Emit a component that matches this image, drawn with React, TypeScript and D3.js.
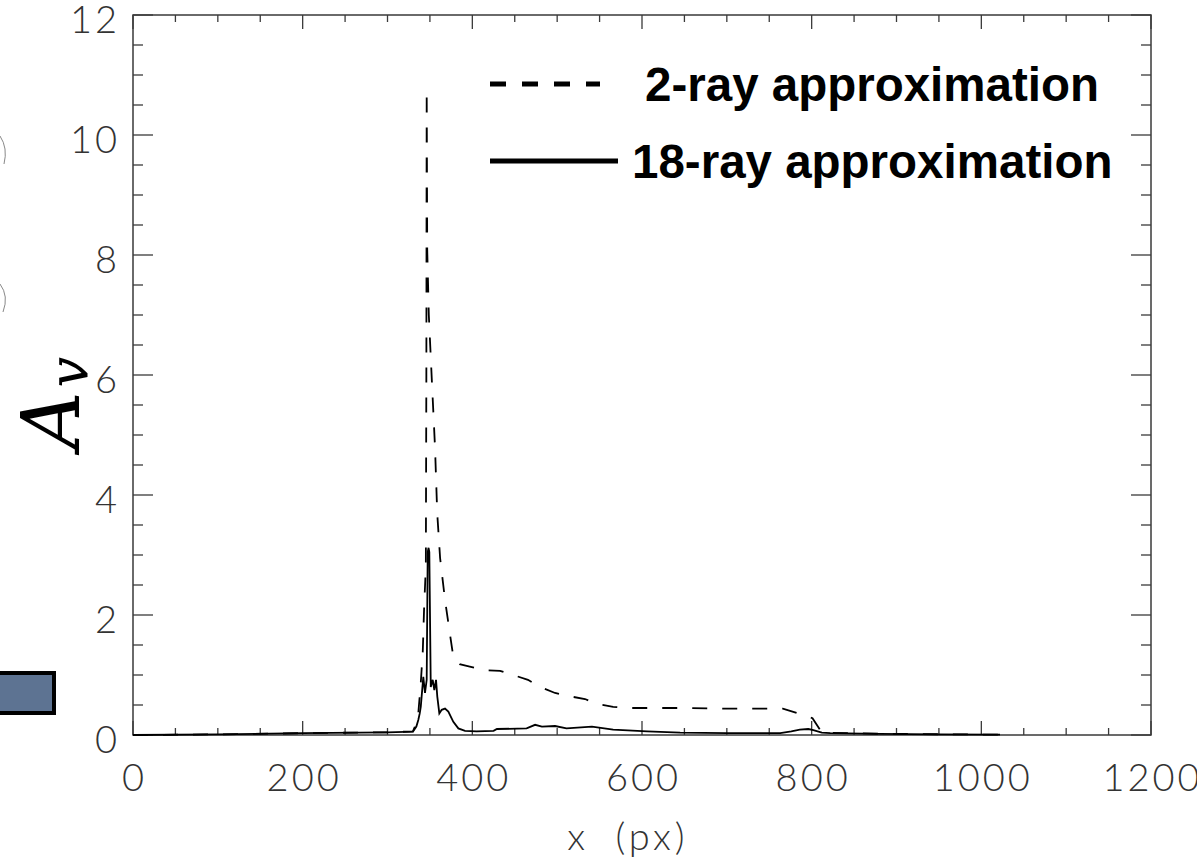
import React from "react";
import * as d3 from "d3";

// ---- data ----
const xTicks = [0, 200, 400, 600, 800, 1000, 1200];
const yTicks = [0, 2, 4, 6, 8, 10, 12];

const ray18X = [0, 100, 200, 300, 330, 334, 336.3, 338, 339.2, 342.2, 344.2, 346.2, 347.4, 348.4, 349.3, 351, 353.3, 355.2, 357.2, 358.7, 361.1, 363.9, 367.8, 371.7, 377.6, 383.5, 391.4, 405, 425, 429, 464, 474, 482, 497.5, 511, 541, 566, 606, 645, 700, 763, 776, 786, 796, 802, 812, 822, 880, 950, 1022];
const ray18Y = [0.0, 0.01, 0.03, 0.045, 0.055, 0.14, 0.25, 0.36, 0.47, 0.97, 0.7, 0.92, 3.05, 3.12, 3.05, 0.8, 0.92, 0.75, 0.92, 0.64, 0.36, 0.42, 0.44, 0.39, 0.22, 0.11, 0.07, 0.06, 0.07, 0.1, 0.11, 0.17, 0.14, 0.15, 0.11, 0.14, 0.09, 0.06, 0.04, 0.03, 0.03, 0.06, 0.09, 0.1, 0.08, 0.04, 0.03, 0.02, 0.01, 0.005];

const ray2X = [0, 100, 200, 300, 330, 334, 336.3, 339.2, 341.6, 343.2, 345.2, 345.8, 346.2, 346.8, 348.7, 352.3, 356, 358.6, 362, 367.8, 372.9, 377.6, 385, 397, 412.6, 432.6, 448, 465.6, 479.8, 497.5, 512.8, 532.8, 547, 566, 582, 654, 700, 766, 784, 801, 812, 880, 1022];
const ray2Y = [0.0, 0.01, 0.03, 0.045, 0.06, 0.2, 0.36, 0.86, 1.4, 2.14, 2.8, 6.0, 10.75, 8.1, 7.0, 5.9, 4.8, 3.7, 2.95, 2.25, 1.75, 1.3, 1.18, 1.14, 1.08, 1.07, 1.0, 0.92, 0.8, 0.7, 0.65, 0.6, 0.52, 0.47, 0.45, 0.45, 0.44, 0.44, 0.36, 0.28, 0.04, 0.02, 0.005];

const legendLabels = ["2-ray approximation", "18-ray approximation"];
const xTitle = "x (px)";

export default function App() {
  const W = 1197, H = 859;
  const L = 133, R = 1151, T = 15, B = 735;
  const x = d3.scaleLinear().domain([0, 1200]).range([L, R]);
  const y = d3.scaleLinear().domain([0, 12]).range([B, T]);

  const line = d3.line<[number, number]>().x(d => x(d[0])).y(d => y(d[1]));
  const d18 = line(ray18X.map((v, i) => [v, ray18Y[i]] as [number, number])) || "";
  const d2 = line(ray2X.map((v, i) => [v, ray2Y[i]] as [number, number])) || "";

  const xMinor = d3.range(0, 1201, 50);
  const yMinor = d3.range(0, 12.01, 0.5);
  const axisCol = "#3a3a3a";
  const labelFont = "Lato, 'DejaVu Sans', sans-serif";

  return (
    <svg width={W} height={H} style={{ position: "absolute", left: 0, top: 0, background: "#fff" }}>
      {/* left-edge remnants of neighbouring figure */}
      <rect x={-6} y={673} width={60} height={40} fill="#5d7392" stroke="#000" strokeWidth={4} />
      <path d="M0,136 Q8,148 4,164" fill="none" stroke="#888" strokeWidth={1} />
      <path d="M0,284 Q9,296 3,312" fill="none" stroke="#888" strokeWidth={1} />

      {/* frame */}
      <rect x={L} y={T} width={R - L} height={B - T} fill="none" stroke={axisCol} strokeWidth={1.5} />

      {/* x ticks bottom & top */}
      {xMinor.map(v => {
        const major = v % 200 === 0;
        const len = major ? 14 : 7;
        return (
          <g key={"xt" + v}>
            <line x1={x(v)} x2={x(v)} y1={B} y2={B - len} stroke={axisCol} strokeWidth={1.3} />
            <line x1={x(v)} x2={x(v)} y1={T} y2={T + len} stroke={axisCol} strokeWidth={1.3} />
          </g>
        );
      })}
      {/* y ticks left & right */}
      {yMinor.map(v => {
        const major = Math.abs(v % 2) < 1e-6;
        const len = major ? 20 : 10;
        return (
          <g key={"yt" + v}>
            <line x1={L} x2={L + len} y1={y(v)} y2={y(v)} stroke={axisCol} strokeWidth={1.3} />
            <line x1={R} x2={R - len} y1={y(v)} y2={y(v)} stroke={axisCol} strokeWidth={1.3} />
          </g>
        );
      })}

      {/* tick labels */}
      {xTicks.map(v => (
        <text key={"xl" + v} x={x(v) + 1.5} y={776} textAnchor="middle" dominantBaseline="central"
          fontFamily={labelFont} fontWeight={300} fontSize={38} letterSpacing={3} fill="#333">{v}</text>
      ))}
      {yTicks.map(v => (
        <text key={"yl" + v} x={120} y={y(v) + 3} textAnchor="end" dominantBaseline="central"
          fontFamily={labelFont} fontWeight={300} fontSize={38} letterSpacing={3} fill="#333">{v}</text>
      ))}

      {/* axis titles */}
      <text x={628} y={835} textAnchor="middle" dominantBaseline="central"
        fontFamily={labelFont} fontWeight={300} fontSize={38} letterSpacing={4} wordSpacing={12} fill="#333">{xTitle}</text>
      <text transform="translate(79,403) rotate(-90)" textAnchor="middle"
        fontFamily="'DejaVu Serif', 'Liberation Serif', serif" fontStyle="italic" fill="#000">
        <tspan fontSize={80}>A</tspan>
        <tspan fontSize={54} dx={4} dy={8}>v</tspan>
      </text>

      {/* curves */}
      <path d={d2} fill="none" stroke="#000" strokeWidth={1.8} strokeDasharray="15,15" />
      <path d={d18} fill="none" stroke="#000" strokeWidth={1.8} />

      {/* legend */}
      <line x1={490} x2={600} y1={84} y2={84} stroke="#000" strokeWidth={5} strokeDasharray="16,16" />
      <text x={645} y={101} fontFamily="'Liberation Sans', Arial, sans-serif" fontWeight="bold" fontSize={47.5} fill="#000">{legendLabels[0]}</text>
      <line x1={490} x2={618} y1={161} y2={161} stroke="#000" strokeWidth={5} />
      <text x={632} y={178} fontFamily="'Liberation Sans', Arial, sans-serif" fontWeight="bold" fontSize={47.5} fill="#000">{legendLabels[1]}</text>
    </svg>
  );
}
